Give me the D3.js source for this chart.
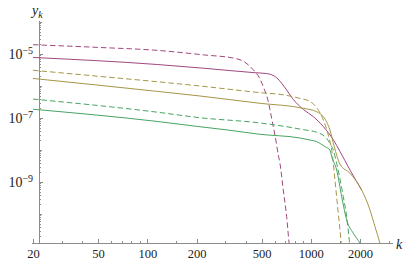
<!DOCTYPE html>
<html>
<head>
<meta charset="utf-8">
<script src="https://cdn.jsdelivr.net/npm/d3@7"></script>
<style>
  body { margin: 0; background: #fff; }
  svg { display: block; }
  .axis path, .axis line { stroke: #8c8c8c; stroke-width: 1; shape-rendering: crispEdges; }
  .axis text { font-family: "Liberation Serif", "DejaVu Serif", serif; font-size: 12.5px; fill: #222; }
  .curve { fill: none; stroke-width: 1; }
</style>
</head>
<body>
<div id="chart"></div>
<script>
// series: [k, y_k]
var magentaDashed = [[20, 1.95e-5], [51, 1.6e-5], [115, 1.3e-5], [225, 9.3e-6], [344, 7.3e-6], [396, 5.5e-6],
    [445, 3.2e-6], [488, 1.7e-6], [512, 9.5e-7], [550, 3.2e-7], [563, 1.8e-7], [590, 5.3e-8], [604, 2.9e-8],
    [633, 7.0e-9], [648, 3.8e-9], [679, 5.6e-10], [712, 8.2e-11], [739, 1.1e-11], [750, 7e-12]];
var magentaSolid = [[20, 7.8e-6], [115, 4.7e-6], [225, 3.57e-6], [456, 2.6e-6], [538, 2.45e-6], [619, 1.8e-6],
    [712, 7.5e-7], [782, 3.8e-7], [900, 1.85e-7], [1037, 1.1e-7], [1193, 5.4e-8], [1373, 2.1e-8],
    [1509, 9.0e-9], [1737, 2.37e-9], [2048, 5.6e-10]];
var oliveDashed = [[20, 3.1e-6], [51, 2.0e-6], [115, 1.36e-6], [210, 1.0e-6], [488, 6.2e-7], [695, 5.2e-7],
    [859, 4.1e-7], [989, 3.3e-7], [1087, 2.1e-7], [1193, 8.7e-8], [1290, 2.5e-8], [1357, 7.0e-9],
    [1406, 1.15e-9], [1473, 1.05e-10], [1530, 1.5e-11], [1550, 7e-12]];
var oliveSolid = [[20, 1.72e-6], [115, 6.8e-7], [210, 4.87e-7], [488, 2.88e-7], [900, 2.01e-7], [1087, 1.57e-7],
    [1193, 1.1e-7], [1310, 4.2e-8], [1390, 1.3e-8], [1509, 3.6e-9], [1737, 1.87e-9], [2048, 5.6e-10],
    [2302, 1.33e-10], [2470, 4.0e-11], [2650, 1.2e-11], [2730, 6.5e-12]];
var greenDashed = [[20, 3.9e-7], [115, 1.52e-7], [210, 1.02e-7], [488, 7.0e-8], [859, 4.5e-8], [1138, 3.3e-8],
    [1251, 2.3e-8], [1310, 1.6e-8], [1373, 1.0e-8], [1440, 3.8e-9], [1580, 3.5e-10], [1658, 8.2e-11],
    [1720, 1.5e-11], [1745, 7.5e-12]];
var greenSolid = [[20, 1.88e-7], [115, 7.8e-8], [210, 5.34e-8], [312, 4.2e-8], [488, 3.1e-8], [859, 2.37e-8],
    [989, 2.05e-8], [1087, 1.82e-8], [1222, 1.27e-8], [1310, 1.0e-8], [1342, 6.2e-9], [1440, 2.37e-9],
    [1545, 3.5e-10], [1658, 6.5e-11], [1820, 2.5e-11], [2000, 1.2e-11], [2060, 8.7e-12]];

var seriesList = [
    {data: magentaDashed, color: "#a2487e", dashed: true},
    {data: magentaSolid, color: "#a2487e", dashed: false},
    {data: oliveDashed, color: "#a59648", dashed: true},
    {data: oliveSolid, color: "#a59648", dashed: false},
    {data: greenDashed, color: "#48a461", dashed: true},
    {data: greenSolid, color: "#48a461", dashed: false}
];

var xMajor = [20, 50, 100, 200, 500, 1000, 2000];
var xMinor = [30, 40, 60, 70, 80, 90, 150, 300, 400, 600, 700, 800, 900, 1500, 3000];
var yLabeled = [1e-5, 1e-7, 1e-9];
var yDecades = [1e-4, 1e-6, 1e-8, 1e-10, 1e-11];

var width = 407, height = 264;
var svg = d3.select("#chart").append("svg")
    .attr("width", width)
    .attr("height", height);

var xScale = d3.scaleLog().domain([20, 2000]).range([33, 360]);
var yScale = d3.scaleLog().domain([1e-9, 1e-5]).range([182, 54]);

var xLo = 19.7, xHi = 3180, xCross = 21.8;
var yLo = 1.2e-11, yHi = 1.05e-4;
var axisY = yScale(yLo);
var axisX = xScale(xCross);

// minor y ticks 2..9 per decade
var yMinor = [];
for (var e = -11; e <= -5; e++) {
    for (var m = 2; m <= 9; m++) {
        var v = m * Math.pow(10, e);
        if (v > yLo && v < yHi) yMinor.push(v);
    }
}

svg.append("defs").append("clipPath")
    .attr("id", "plotclip")
    .append("rect")
    .attr("x", xScale(xLo))
    .attr("y", yScale(yHi))
    .attr("width", xScale(xHi) - xScale(xLo))
    .attr("height", axisY - yScale(yHi));

// x axis
var gx = svg.append("g")
    .attr("class", "axis")
    .attr("transform", "translate(0," + axisY + ")");
gx.append("line")
    .attr("x1", xScale(xLo)).attr("x2", xScale(xHi))
    .attr("y1", 0).attr("y2", 0);
gx.append("g").call(d3.axisBottom(xScale).tickValues(xMinor).tickSize(-2).tickFormat(""));
gx.append("g").call(d3.axisBottom(xScale).tickValues(xMajor).tickSize(-4)
    .tickPadding(6).tickFormat(d3.format("d")));
gx.selectAll(".domain").remove();

// y axis
var gy = svg.append("g")
    .attr("class", "axis")
    .attr("transform", "translate(" + axisX + ",0)");
gy.append("line")
    .attr("x1", 0).attr("x2", 0)
    .attr("y1", yScale(yHi)).attr("y2", axisY);
gy.append("g").call(d3.axisLeft(yScale).tickValues(yMinor).tickSize(-2).tickFormat(""));
gy.append("g").call(d3.axisLeft(yScale).tickValues(yDecades.filter(function(d) { return d > yLo; }))
    .tickSize(-3).tickFormat(""));
var gyMajor = gy.append("g").call(d3.axisLeft(yScale).tickValues(yLabeled).tickSize(-4)
    .tickPadding(6).tickFormat(""));
gy.selectAll(".domain").remove();

gyMajor.selectAll(".tick text").each(function(d) {
    var t = d3.select(this)
        .style("font-size", "14px")
        .attr("dy", "0.35em");
    t.append("tspan").text("10");
    t.append("tspan")
        .attr("dy", "-0.55em")
        .style("font-size", "10px")
        .text("\u2212" + Math.round(-Math.log10(d)));
});

// axis names
svg.append("text")
    .attr("x", 32)
    .attr("y", 15)
    .style("font-family", "'Liberation Serif', 'DejaVu Serif', serif")
    .style("font-style", "italic")
    .style("font-size", "14px")
    .style("fill", "#222")
    .call(function(t) {
        t.append("tspan").text("y");
        t.append("tspan").attr("dy", 3).style("font-size", "10px").text("k");
    });

svg.append("text")
    .attr("x", 396)
    .attr("y", axisY + 6)
    .style("font-family", "'Liberation Serif', 'DejaVu Serif', serif")
    .style("font-style", "italic")
    .style("font-size", "14px")
    .style("fill", "#222")
    .text("k");

// curves
var line = d3.line()
    .x(function(d) { return xScale(d[0]); })
    .y(function(d) { return yScale(d[1]); })
    .curve(d3.curveMonotoneX);

var gCurves = svg.append("g").attr("clip-path", "url(#plotclip)");
seriesList.forEach(function(s) {
    gCurves.append("path")
        .datum(s.data)
        .attr("class", "curve")
        .attr("stroke", s.color)
        .attr("stroke-dasharray", s.dashed ? "5.5,3" : null)
        .attr("d", line);
});
</script>
</body>
</html>
